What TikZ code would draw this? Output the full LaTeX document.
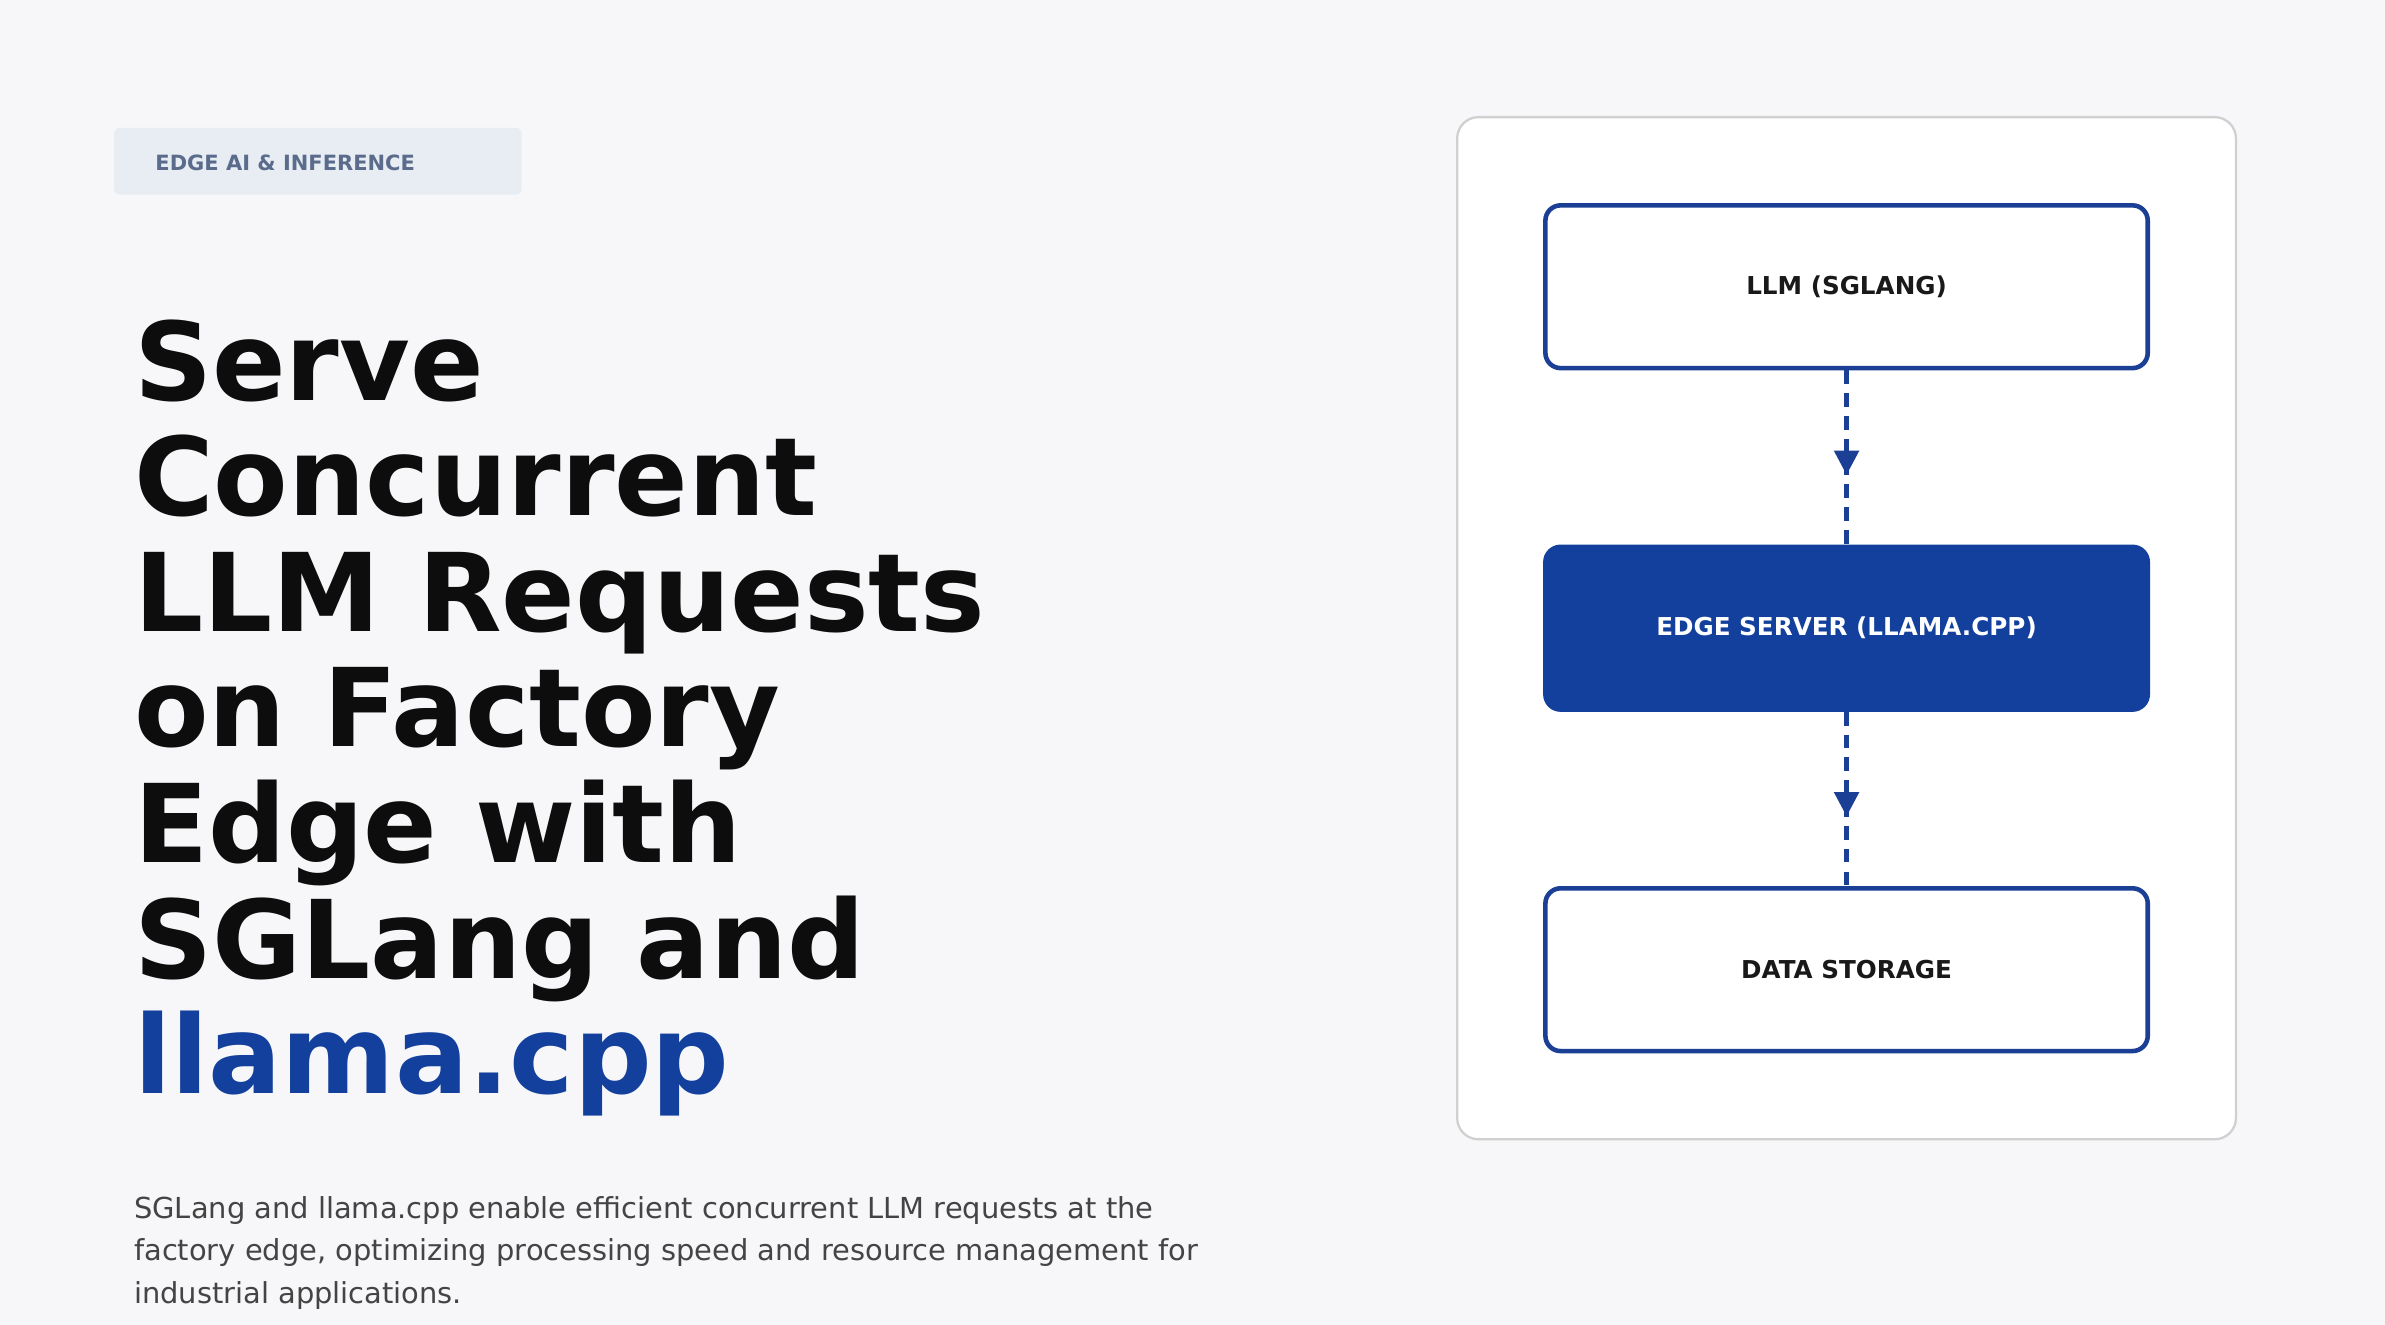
\documentclass[tikz,border=0pt]{standalone}
\usepackage{fontspec}
\setmainfont{DejaVu Sans}
\usetikzlibrary{arrows.meta,decorations.markings}
\definecolor{bg}{HTML}{F7F7F9}
\definecolor{navy}{HTML}{12409C}
\definecolor{stroke}{HTML}{1A3F94}
\definecolor{badge}{HTML}{E8EDF3}
\definecolor{badgetxt}{HTML}{5A6B8C}
\definecolor{sub}{HTML}{444444}
\definecolor{card}{HTML}{D0D0D0}
\begin{document}
\begin{tikzpicture}[x=1pt,y=-1pt,
  title/.style={anchor=base west,inner sep=0,font=\fontsize{71.4}{76}\selectfont\bfseries,text=black!95},
  subt/.style={anchor=base west,inner sep=0,font=\fontsize{19}{28}\selectfont,text=sub},
  box/.style={draw=stroke,line width=3pt,rounded corners=10pt,fill=white,minimum width=396pt,minimum height=107pt,font=\fontsize{16.2}{19}\selectfont\bfseries,text=black!90},
  conn/.style={draw=stroke,line width=3pt,dash pattern=on 9pt off 6pt,
    postaction={decorate},decoration={markings,mark=at position 0.6 with {\arrow{Triangle[width=16pt,length=16pt]}}}}]
\useasboundingbox[fill=bg] (0,0) rectangle (1568,871);
\node[fill=badge,rounded corners=4pt,minimum width=268pt,minimum height=44pt,inner sep=0] (badge) at (209,106) {};
\node[anchor=west,inner sep=0,font=\fontsize{13.8}{16}\selectfont\bfseries,text=badgetxt] (badget) at (102,107) {EDGE AI \& INFERENCE};
\node[title] (t1) at (88,263) {Serve};
\node[title] (t2) at (88,339) {Concurrent};
\node[title] (t3) at (88,415) {LLM Requests};
\node[title] (t4) at (88,491) {on Factory};
\node[title] (t5) at (88,567) {Edge with};
\node[title] (t6) at (88,643) {SGLang and};
\node[title,text=navy] (t7) at (88,719) {llama.cpp};
\node[subt] (s1) at (88,801) {SGLang and llama.cpp enable efficient concurrent LLM requests at the};
\node[subt] (s2) at (88,829) {factory edge, optimizing processing speed and resource management for};
\node[subt] (s3) at (88,857) {industrial applications.};
\node[draw=card,line width=1.5pt,fill=white,rounded corners=14pt,minimum width=512pt,minimum height=672pt] (card) at (1214,413) {};
\node[box] (b1) at (1214,188.5) {LLM (SGLANG)};
\node[box,fill=navy,draw=navy,text=white] (b2) at (1214,413) {EDGE SERVER (LLAMA.CPP)};
\node[box] (b3) at (1214,637.5) {DATA STORAGE};
\draw[conn] (b1.south) -- (b2.north);
\draw[conn] (b2.south) -- (b3.north);
\end{tikzpicture}
\end{document}
